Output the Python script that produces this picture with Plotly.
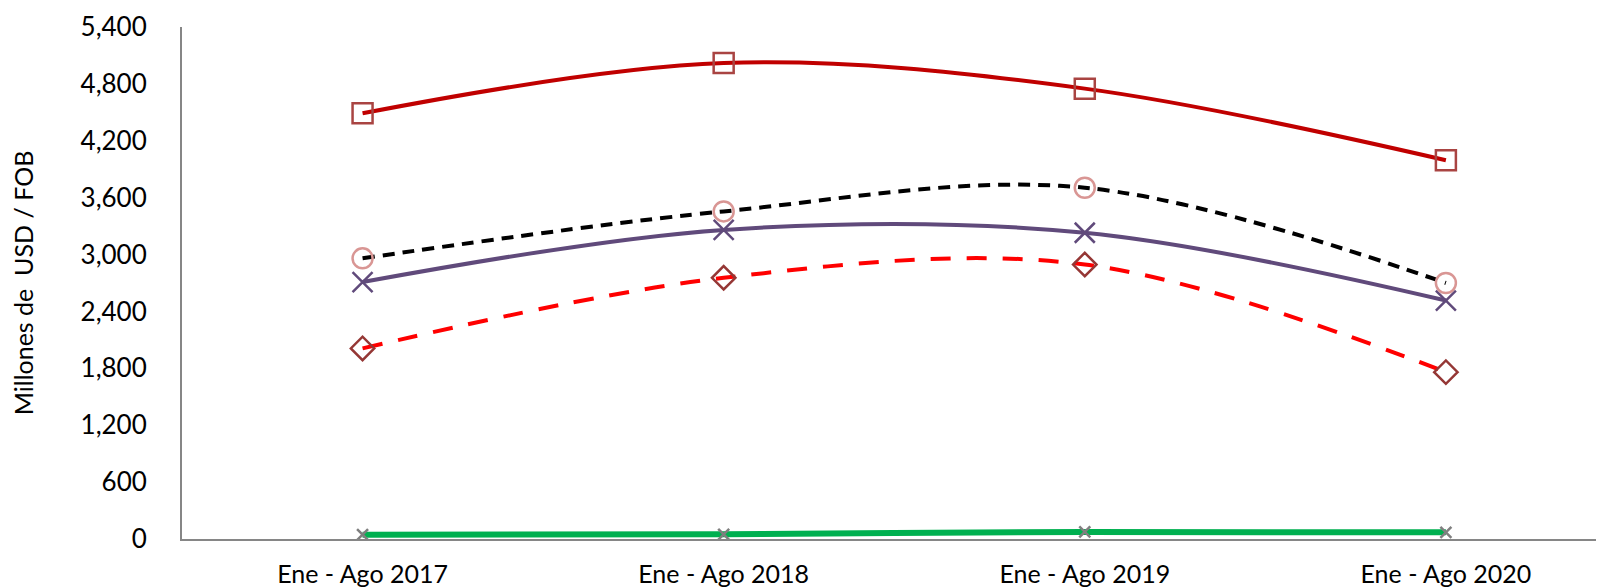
import plotly.graph_objects as go

categories = ["Ene - Ago 2017", "Ene - Ago 2018", "Ene - Ago 2019", "Ene - Ago 2020"]
serie_roja = [4490, 5020, 4750, 3995]
serie_negra = [2960, 3455, 3705, 2700]
serie_morada = [2710, 3260, 3230, 2515]
serie_roja_disc = [2010, 2755, 2895, 1760]
serie_verde = [45, 50, 75, 70]
y_ticks = [0, 600, 1200, 1800, 2400, 3000, 3600, 4200, 4800, 5400]

x = list(range(len(categories)))
FONT = "Lato"

fig = go.Figure()

def add(vals, color, width, dash, msym, msize, mcolor, mwidth):
    fig.add_trace(go.Scatter(
        x=x, y=vals, mode="lines+markers",
        line=dict(color=color, width=width, dash=dash, shape="spline", smoothing=1.0),
        marker=dict(symbol=msym, size=msize, color=mcolor,
                    line=dict(color=mcolor, width=mwidth)),
        cliponaxis=False, showlegend=False))

add(serie_verde, "#00B050", 6, "solid", "x-thin-open", 11, "#7F7F7F", 2.5)
add(serie_roja_disc, "#FF0000", 4, "20px,16px", "diamond-open", 18, "#953735", 2.5)
add(serie_morada, "#604A7B", 4, "solid", "x-thin-open", 20, "#604A7B", 2.5)
add(serie_negra, "#000000", 4, "12px,8px", "circle-open", 20, "#D99694", 2.5)
add(serie_roja, "#C00000", 4, "solid", "square-open", 20, "#A94442", 2.5)

fig.update_layout(
    width=1604, height=587,
    margin=dict(l=174, r=0, t=19, b=56),
    paper_bgcolor="white", plot_bgcolor="white",
    font=dict(family=FONT, size=26, color="#000000"),
)
fig.update_xaxes(
    tickmode="array", tickvals=x, ticktext=categories,
    range=[-0.5, 3.46], showgrid=False, zeroline=False,
    showline=True, linecolor="#868686", linewidth=2,
    ticks="", ticklabelstandoff=12, tickfont=dict(size=25),
)
fig.update_yaxes(
    range=[0, 5400], tickmode="array", tickvals=y_ticks,
    tickformat=",d", showgrid=False, zeroline=False,
    showline=True, linecolor="#868686", linewidth=2,
    ticks="", ticklabelstandoff=28, tickfont=dict(size=26),
    title=dict(text="Millones de  USD / FOB", font=dict(size=25), standoff=40),
)

fig.write_html("out.html")
